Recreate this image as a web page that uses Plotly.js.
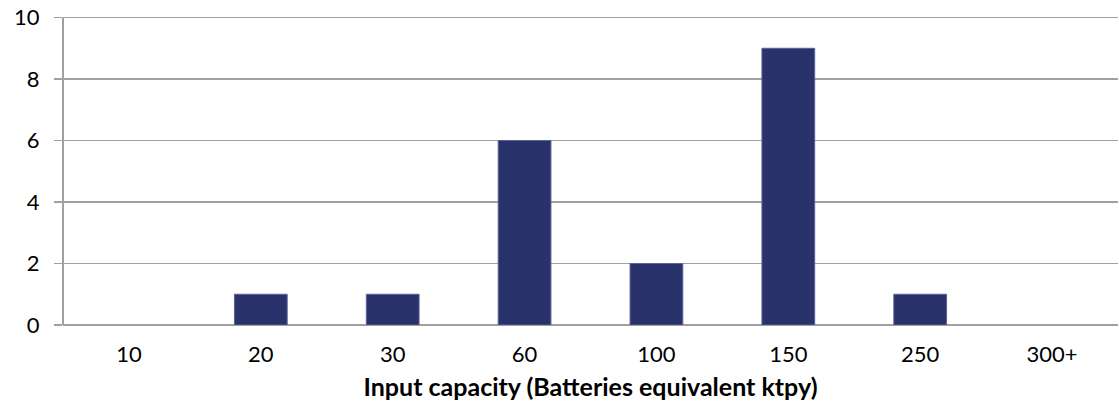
<!DOCTYPE html>
<html>
<head>
<meta charset="utf-8">
<script src="https://cdn.plot.ly/plotly-3.0.1.min.js"></script>
<style>html,body{margin:0;padding:0;background:#fff;}#chart{width:1119px;height:413px;}</style>
</head>
<body>
<div id="chart"></div>
<script>
const categories = ["10", "20", "30", "60", "100", "150", "250", "300+"];
const counts = [0, 1, 1, 6, 2, 9, 1, 0];
const yTicks = [0, 2, 4, 6, 8, 10];
const xTitle = "Input capacity (Batteries equivalent ktpy)";

const trace = {
  type: "bar",
  x: categories,
  y: counts,
  marker: {color: "#29326A", line: {color: "#5A6394", width: counts.map(v => v > 0 ? 1 : 0)}},
  hoverinfo: "x+y"
};

const layout = {
  width: 1119,
  height: 413,
  margin: {l: 63, r: 1, t: 8, b: 88},
  paper_bgcolor: "#fff",
  plot_bgcolor: "#fff",
  bargap: 0.6,
  showlegend: false,
  font: {family: "Lato, 'Open Sans', sans-serif", size: 22, color: "#000"},
  xaxis: {
    type: "category",
    showgrid: false,
    showline: false,
    ticks: "",
    ticklen: 0,
    ticklabelstandoff: 14,
    tickfont: {size: 22, color: "#000"},
    title: {text: "<b>" + xTitle + "</b>", font: {size: 25, color: "#000"}, standoff: 12},
    fixedrange: true
  },
  yaxis: {
    range: [0, 10.31],
    tickvals: yTicks,
    ticktext: yTicks.map(String),
    showgrid: true,
    gridcolor: "#A0A0A0",
    gridwidth: 1.5,
    zeroline: true,
    zerolinecolor: "#A0A0A0",
    zerolinewidth: 2,
    showline: false,
    ticks: "outside",
    ticklen: 8,
    tickcolor: "#A0A0A0",
    tickwidth: 1.5,
    ticklabelstandoff: 10,
    tickfont: {size: 22, color: "#000"},
    fixedrange: true
  },
  shapes: [{
    type: "line", xref: "paper", yref: "y", x0: 0, x1: 0, y0: 0, y1: yTicks[yTicks.length - 1],
    line: {color: "#A0A0A0", width: 2}
  }]
};

Plotly.newPlot("chart", [trace], layout, {displayModeBar: false, staticPlot: true});
</script>
</body>
</html>
